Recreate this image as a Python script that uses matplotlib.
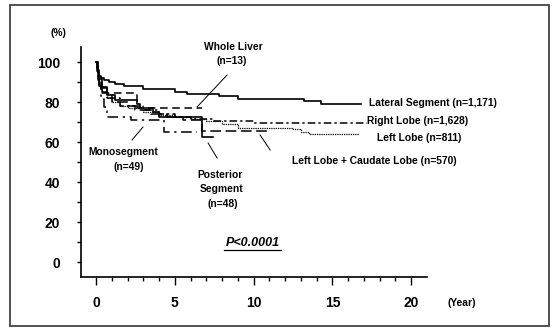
import matplotlib
matplotlib.use("Agg")
import matplotlib.pyplot as plt
from matplotlib.patches import Rectangle
from matplotlib.ticker import FixedLocator

plt.rcParams['font.family'] = ['Liberation Sans', 'DejaVu Sans']

# ---- data (years, survival %) ----
lateral_t = [0, 0.05, 0.1, 0.2, 0.3, 0.5, 0.8, 1.2, 1.8, 3.0, 5.0, 5.8, 7.8, 9.0, 13.2, 14.3, 16.8]
lateral_s = [100, 97, 95, 93, 92, 91, 90, 89, 88, 86.5, 85, 84, 83, 81.7, 80.7, 79.2, 79.2]

right_t = [0, 0.05, 0.1, 0.2, 0.4, 0.7, 1.0, 1.5, 2.0, 3.0, 4.0, 5.0, 6.0, 7.5, 10.0, 17.2]
right_s = [100, 96, 93, 90, 87, 84, 82, 80, 78, 76, 74, 72.5, 71.5, 70.5, 69.5, 69.5]

left_t = [0, 0.05, 0.1, 0.2, 0.4, 0.7, 1.0, 1.5, 2.0, 3.0, 4.0, 5.0, 6.0, 7.0, 8.0, 9.0, 12.5, 13.0, 13.5, 16.7]
left_s = [100, 95, 92, 88, 85, 82, 80, 78, 77, 75, 73.5, 72.5, 71.5, 70.5, 69, 67, 66.5, 65, 64, 64]

lc_t = [0, 0.05, 0.1, 0.2, 0.4, 0.7, 1.0, 1.5, 2.5, 3.5, 4.5, 5.5, 6.7, 11.1]
lc_s = [100, 95, 91, 88, 85, 82, 80, 78, 76, 74, 72.5, 71, 65.5, 65.5]

mono_t = [0, 0.1, 0.2, 0.3, 0.5, 0.7, 2.2, 4.3, 6.4]
mono_s = [100, 93.9, 87.8, 81.6, 77.6, 72.5, 71, 65, 65]

whole_t = [0, 0.1, 0.3, 2.6, 6.7]
whole_s = [100, 92.3, 84.6, 76.9, 76.9]

post_t = [0, 0.05, 0.1, 0.2, 0.4, 0.7, 1.2, 2.6, 2.8, 3.6, 4.0, 6.7, 7.4]
post_s = [100, 97.9, 95.8, 91.7, 87.5, 83.3, 81.2, 79.1, 77, 74.9, 72.3, 62.3, 62.3]

y_ticks = [0, 20, 40, 60, 80, 100]
x_ticks = [0, 5, 10, 15, 20]

fig = plt.figure(figsize=(5.57, 3.30), dpi=100)
fig.patches.append(Rectangle((10/557, 4/330), 539/557, 321/330, transform=fig.transFigure,
                             fill=False, edgecolor='#333333', lw=1.2))
ax = fig.add_axes([81/557, 1-277/330, (427-81)/557, (277-47)/330])

k = dict(color='black', where='post')
ax.step(lateral_t, lateral_s, lw=1.2, ls='-', **k)
ax.step(right_t, right_s, lw=1.1, ls=(0, (5, 2, 1.5, 2)), **k)
ax.step(left_t, left_s, lw=0.9, ls=(0, (1, 0.8)), **k)
ax.step(lc_t, lc_s, lw=1.1, ls=(0, (7, 3)), **k)
ax.step(mono_t, mono_s, lw=1.1, ls=(0, (7, 3, 1.5, 3)), **k)
ax.step(whole_t, whole_s, lw=1.1, ls=(0, (5, 3)), **k)
ax.step(post_t, post_s, lw=1.2, ls='-', **k)

ax.set_xlim(-0.95, 21.0)
ax.set_ylim(-7.5, 107.5)
for s in ['top', 'right']:
    ax.spines[s].set_visible(False)
ax.spines['left'].set_linewidth(1.2)
ax.spines['bottom'].set_linewidth(1.2)

ax.set_yticks(y_ticks)
ax.set_yticklabels([str(v) for v in y_ticks], fontsize=10, fontweight='bold')
ax.yaxis.set_minor_locator(FixedLocator([10, 30, 50, 70, 90]))
ax.set_xticks(x_ticks)
ax.set_xticklabels([str(v) for v in x_ticks], fontsize=10, fontweight='bold')
ax.xaxis.set_minor_locator(FixedLocator([v for v in range(0, 21) if v % 5]))
ax.tick_params(axis='y', which='both', length=3, width=1, pad=12)
ax.tick_params(axis='x', which='major', length=5.5, width=1, pad=8)
ax.tick_params(axis='x', which='minor', length=3, width=1)

def X(px):
    return (px - 96) / 15.75

def Y(py):
    return (262 - py) / 2.0

fs = 7.4
tk = dict(fontsize=fs, fontweight='bold', clip_on=False, va='center')
ax.text(X(58), Y(33), '(%)', ha='center', **tk)
ax.text(X(233), Y(47), 'Whole Liver', ha='center', **tk)
ax.text(X(232), Y(61), '(n=13)', ha='center', **tk)
ax.text(X(369), Y(103), 'Lateral Segment (n=1,171)', ha='left', **tk)
ax.text(X(367), Y(121), 'Right Lobe (n=1,628)', ha='left', **tk)
ax.text(X(377), Y(138), 'Left Lobe (n=811)', ha='left', **tk)
ax.text(X(292), Y(161), 'Left Lobe + Caudate Lobe (n=570)', ha='left', **tk)
ax.text(X(123), Y(152), 'Monosegment', ha='center', **tk)
ax.text(X(129), Y(167), '(n=49)', ha='center', **tk)
ax.text(X(220), Y(175), 'Posterior', ha='center', **tk)
ax.text(X(221), Y(189), 'Segment', ha='center', **tk)
ax.text(X(223), Y(204), '(n=48)', ha='center', **tk)
ax.text(X(461), Y(303), '(Year)', ha='center', **tk)
ax.text(X(253), Y(243), 'P<0.0001', ha='center', fontsize=9, style='italic',
        fontweight='bold', va='center')
ax.plot([X(224), X(281)], [Y(250), Y(250)], color='black', lw=0.9)

# pointer lines
ptr = dict(color='black', lw=0.7, clip_on=False)
ax.plot([X(197), X(227)], [Y(107), Y(75)], **ptr)
ax.plot([X(132), X(143)], [Y(140), Y(127)], **ptr)
ax.plot([X(208), X(217)], [Y(143), Y(158)], **ptr)
ax.plot([X(260), X(270)], [Y(135), Y(150)], **ptr)

fig.savefig('out.png', dpi=100)
